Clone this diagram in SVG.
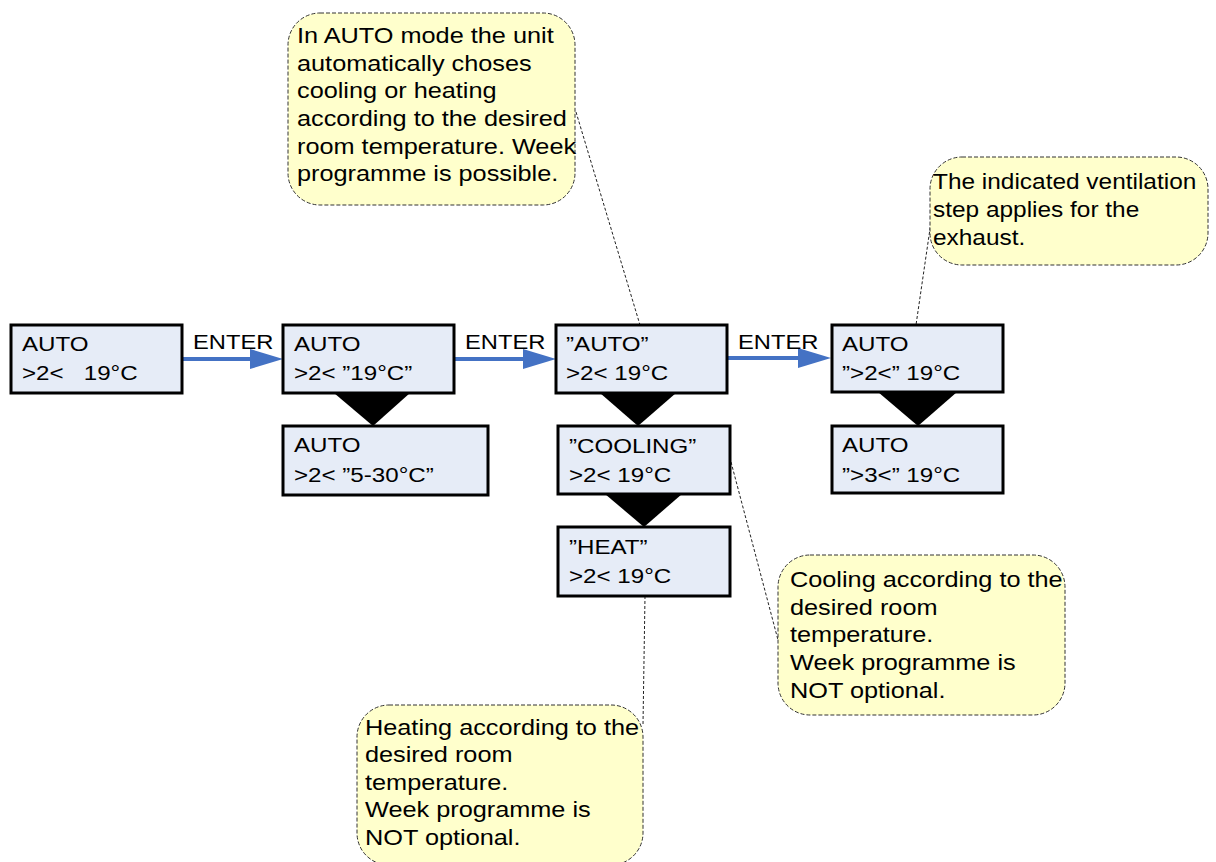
<svg xmlns="http://www.w3.org/2000/svg" width="1216" height="862" viewBox="0 0 1216 862">
<style>
.box{fill:#E6ECF7;stroke:#000;stroke-width:3}
.tri{fill:#000}
.t{font-family:"Liberation Sans",Arial,sans-serif;font-size:21px;fill:#000;white-space:pre}
.c{font-family:"Liberation Sans",Arial,sans-serif;font-size:22px;fill:#000}
.call{fill:#FFFFCC;stroke:#333;stroke-width:1;stroke-dasharray:4,2}
.lead{fill:none;stroke:#222;stroke-width:1;stroke-dasharray:3,2}
.arr{fill:none;stroke:#4472C4;stroke-width:4}
.head{fill:#4472C4}
</style>
<rect width="1216" height="862" fill="#fff"/>
<g id="connectors">
<line class="arr" x1="182" y1="359" x2="252" y2="359"/>
<polygon class="head" points="250,349 283,359 250,369"/>
<line class="arr" x1="454" y1="359" x2="525" y2="359"/>
<polygon class="head" points="523,349 556,359 523,369"/>
<line class="arr" x1="727" y1="358" x2="800" y2="358"/>
<polygon class="head" points="798,348 831,358 798,368"/>
<text class="t" transform="matrix(1.13,0,0,1,193,349)">ENTER</text>
<text class="t" transform="matrix(1.13,0,0,1,465,349)">ENTER</text>
<text class="t" transform="matrix(1.13,0,0,1,738,349)">ENTER</text>
<polygon class="tri" points="334,393 410,393 373,426"/>
<polygon class="tri" points="600,393 676,393 638,426"/>
<polygon class="tri" points="605,494 682,494 644,527"/>
<polygon class="tri" points="878,392 957,392 918,426"/>
<line class="lead" x1="576" y1="112" x2="640" y2="325"/>
<line class="lead" x1="931" y1="222" x2="916" y2="325"/>
<line class="lead" x1="731" y1="462" x2="778" y2="640"/>
<line class="lead" x1="645" y1="596" x2="643" y2="725"/>
</g>
<g id="node-auto1">
<rect class="box" x="11" y="325" width="171" height="68"/>
<text class="t" transform="matrix(1.15,0,0,1,22,351)"><tspan x="0" y="0">AUTO</tspan><tspan x="0" y="29">&gt;2&lt;   19°C</tspan></text>
</g>
<g id="node-auto2">
<rect class="box" x="283" y="325" width="171" height="68"/>
<text class="t" transform="matrix(1.15,0,0,1,294,351)"><tspan x="0" y="0">AUTO</tspan><tspan x="0" y="29">&gt;2&lt; ”19°C”</tspan></text>
</g>
<g id="node-auto2-range">
<rect class="box" x="283" y="426" width="205" height="69"/>
<text class="t" transform="matrix(1.15,0,0,1,294,452)"><tspan x="0" y="0">AUTO</tspan><tspan x="0" y="30">&gt;2&lt; ”5-30°C”</tspan></text>
</g>
<g id="node-auto3">
<rect class="box" x="556" y="325" width="171" height="68"/>
<text class="t" transform="matrix(1.15,0,0,1,566,351)"><tspan x="0" y="0">”AUTO”</tspan><tspan x="0" y="29">&gt;2&lt; 19°C</tspan></text>
</g>
<g id="node-cooling">
<rect class="box" x="558" y="426" width="172" height="68"/>
<text class="t" transform="matrix(1.15,0,0,1,569,453)"><tspan x="0" y="0">”COOLING”</tspan><tspan x="0" y="29">&gt;2&lt; 19°C</tspan></text>
</g>
<g id="node-heat">
<rect class="box" x="558" y="527" width="172" height="69"/>
<text class="t" transform="matrix(1.15,0,0,1,569,554)"><tspan x="0" y="0">”HEAT”</tspan><tspan x="0" y="29">&gt;2&lt; 19°C</tspan></text>
</g>
<g id="node-auto4">
<rect class="box" x="832" y="325" width="171" height="67"/>
<text class="t" transform="matrix(1.15,0,0,1,842,351)"><tspan x="0" y="0">AUTO</tspan><tspan x="0" y="29">”&gt;2&lt;” 19°C</tspan></text>
</g>
<g id="node-auto4-step">
<rect class="box" x="832" y="426" width="171" height="67"/>
<text class="t" transform="matrix(1.15,0,0,1,842,452)"><tspan x="0" y="0">AUTO</tspan><tspan x="0" y="30">”&gt;3&lt;” 19°C</tspan></text>
</g>
<g id="note-auto">
<rect class="call" x="288" y="13" width="287" height="192" rx="32" ry="32"/>
<text class="c" transform="matrix(1.15,0,0,1,297,43)"><tspan x="0" y="0">In AUTO mode the unit</tspan><tspan x="0" y="27.7">automatically choses</tspan><tspan x="0" y="55.4">cooling or heating</tspan><tspan x="0" y="83.1">according to the desired</tspan><tspan x="0" y="110.8">room temperature. Week</tspan><tspan x="0" y="138.5">programme is possible.</tspan></text>
</g>
<g id="note-ventilation">
<rect class="call" x="930" y="157" width="278" height="108" rx="32" ry="32"/>
<text class="c" transform="matrix(1.11,0,0,1,933,189)"><tspan x="0" y="0">The indicated ventilation</tspan><tspan x="0" y="28">step applies for the</tspan><tspan x="0" y="56">exhaust.</tspan></text>
</g>
<g id="note-cooling">
<rect class="call" x="778" y="555" width="287" height="160" rx="32" ry="32"/>
<text class="c" transform="matrix(1.15,0,0,1,790,587)"><tspan x="0" y="0">Cooling according to the</tspan><tspan x="0" y="27.7">desired room</tspan><tspan x="0" y="55.4">temperature.</tspan><tspan x="0" y="83.1">Week programme is</tspan><tspan x="0" y="110.8">NOT optional.</tspan></text>
</g>
<g id="note-heating">
<rect class="call" x="357" y="705" width="286" height="160" rx="32" ry="32"/>
<text class="c" transform="matrix(1.15,0,0,1,365,735)"><tspan x="0" y="0">Heating according to the</tspan><tspan x="0" y="27.5">desired room</tspan><tspan x="0" y="55">temperature.</tspan><tspan x="0" y="82.5">Week programme is</tspan><tspan x="0" y="110">NOT optional.</tspan></text>
</g>
</svg>
